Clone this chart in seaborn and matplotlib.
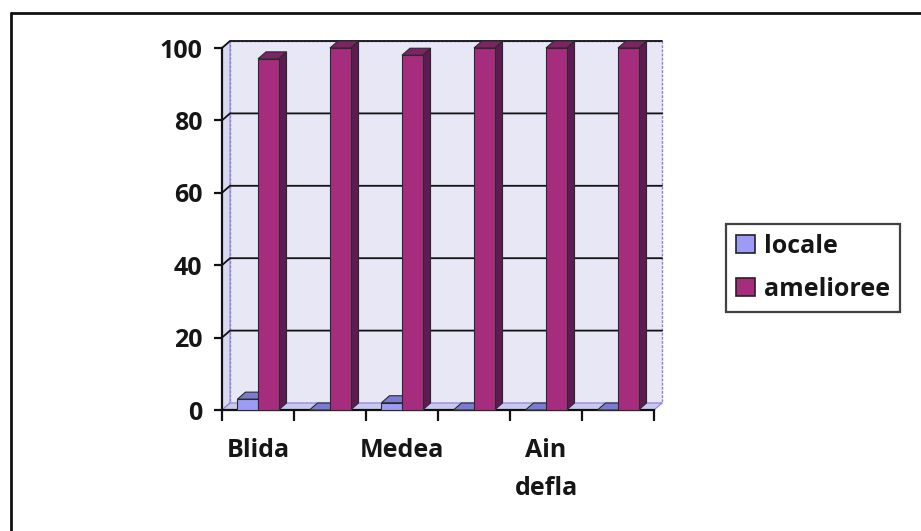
import matplotlib
matplotlib.use("Agg")
import matplotlib.pyplot as plt
import numpy as np
import pandas as pd
import seaborn as sns
from matplotlib.patches import Polygon, Patch, Rectangle
from matplotlib.lines import Line2D

# ---- data -------------------------------------------------------------
positions = [0, 1, 2, 3, 4, 5]
tick_labels = ["Blida", "", "Medea", "", "Ain\ndefla", ""]
locale = [3, 0, 2, 0, 0, 0]
amelioree = [97, 100, 98, 100, 100, 100]
series_names = ["locale", "amelioree"]
y_ticks = [0, 20, 40, 60, 80, 100]

# ---- style ------------------------------------------------------------
sns.set_theme(style="white")
plt.rcParams["font.family"] = ["Open Sans", "DejaVu Sans"]
plt.rcParams["font.weight"] = "bold"

face = {"locale": "#9c9cf6", "amelioree": "#a62c7e"}
side = {"locale": "#6464b4", "amelioree": "#5c1c52"}
top = {"locale": "#7b7bd0", "amelioree": "#7c2466"}
text_color = "#161616"

df = pd.DataFrame({
    "pos": positions * 2,
    "serie": ["locale"] * len(positions) + ["amelioree"] * len(positions),
    "valeur": locale + amelioree,
})

W, H = 921, 531
fig = plt.figure(figsize=(W / 100, H / 100), dpi=100)
fig.patch.set_facecolor("white")

# front plane of the plot: x 222..654 px, y 410..48 px
left_px, right_px, bottom_px, top_px = 222, 654, 410, 48
ax = fig.add_axes([left_px / W, 1 - bottom_px / H,
                   (right_px - left_px) / W, (bottom_px - top_px) / H])
ax.set_facecolor("none")

sns.barplot(data=df, x="pos", y="valeur", hue="serie", hue_order=series_names,
            order=positions, palette=face, width=0.57, saturation=1,
            edgecolor="#2a2a2a", linewidth=0.8, legend=False, ax=ax)
bars = [p for p in ax.patches if isinstance(p, Rectangle)]
bars = sorted(bars, key=lambda p: p.get_x())

ax.set_xlim(-0.5, 5.5)
ax.set_ylim(0, 100)

# depth of the 3D effect, in data units (about 7-8 px)
px_x = (right_px - left_px) / 6.0
px_y = (bottom_px - top_px) / 100.0
dx = 8 / px_x
dy = 7 / px_y

x0, x1 = -0.5, 5.5
wall_col = "#e7e7f6"
# back wall
ax.add_patch(Polygon([(x0 + dx, dy), (x1 + dx, dy), (x1 + dx, 100 + dy), (x0 + dx, 100 + dy)],
                     closed=True, facecolor=wall_col, edgecolor="#8c80d8",
                     linewidth=1.0, linestyle=(0, (2, 1)), zorder=0.2, clip_on=False))
# side wall
ax.add_patch(Polygon([(x0, 0), (x0 + dx, dy), (x0 + dx, 100 + dy), (x0, 100)],
                     closed=True, facecolor="#d9d9f0", edgecolor="#8c80d8",
                     linewidth=0.8, zorder=0.3, clip_on=False))
# floor
ax.add_patch(Polygon([(x0, 0), (x1, 0), (x1 + dx, dy), (x0 + dx, dy)],
                     closed=True, facecolor="#c9c9ef", edgecolor="#8c80d8",
                     linewidth=0.8, zorder=0.3, clip_on=False))

# gridlines on the back wall, joined to the front axis
for v in y_ticks[1:]:
    ax.add_line(Line2D([x0, x0 + dx, x1 + dx], [v, v + dy, v + dy],
                       color="#111111", linewidth=1.3, zorder=0.5, clip_on=False))

# 3D faces for each bar
loc_rgb = matplotlib.colors.to_rgb(face["locale"])
z = 2.0
for b in bars:
    bx, bw, bh = b.get_x(), b.get_width(), b.get_height()
    name = "locale" if np.allclose(b.get_facecolor()[:3], loc_rgb, atol=0.01) else "amelioree"
    ax.add_patch(Polygon([(bx + bw, 0), (bx + bw + dx, dy), (bx + bw + dx, bh + dy), (bx + bw, bh)],
                         closed=True, facecolor=side[name], edgecolor="#2a2a2a",
                         linewidth=0.8, zorder=z, clip_on=False))
    ax.add_patch(Polygon([(bx, bh), (bx + bw, bh), (bx + bw + dx, bh + dy), (bx + dx, bh + dy)],
                         closed=True, facecolor=top[name], edgecolor="#2a2a2a",
                         linewidth=0.8, zorder=z, clip_on=False))
    b.set_zorder(z + 0.5)
    b.set_clip_on(False)
    z += 1

# axes: front lines only
for s in ["top", "right"]:
    ax.spines[s].set_visible(False)
for s in ["left", "bottom"]:
    ax.spines[s].set_color("#111111")
    ax.spines[s].set_linewidth(1.6)
    ax.spines[s].set_zorder(1)

ax.set_yticks(y_ticks)
ax.set_yticklabels([str(v) for v in y_ticks], fontsize=18, fontweight="bold", color=text_color)
ax.tick_params(axis="y", direction="out", length=6, width=1.6, color="#111111", pad=8, left=True)

ax.set_xticks(np.arange(-0.5, 6.0, 1.0))
ax.set_xticklabels([])
ax.set_xticks(positions, minor=True)
ax.set_xticklabels(tick_labels, minor=True, fontsize=18, fontweight="bold",
                   color=text_color, linespacing=1.7, va="top")
ax.tick_params(axis="x", which="major", direction="out", length=8, width=1.6,
               color="#111111", bottom=True)
ax.tick_params(axis="x", which="minor", length=0, pad=20)
ax.set_xlabel("")
ax.set_ylabel("")
ax.grid(False)

# legend
handles = [Patch(facecolor=face[n], edgecolor="#222222", linewidth=1.2, label=n) for n in series_names]
leg = fig.legend(handles=handles, loc="upper left", bbox_to_anchor=(726 / W, 1 - 224 / H),
                 frameon=True, fancybox=False, fontsize=18, handlelength=0.75,
                 handleheight=0.75, handletextpad=0.35, borderpad=0.4, labelspacing=0.7,
                 borderaxespad=0)
leg.get_frame().set_edgecolor("#111111")
leg.get_frame().set_linewidth(1.6)
for t in leg.get_texts():
    t.set_fontweight("bold")
    t.set_color(text_color)

# outer frame of the chart (top and left edges)
fig.add_artist(Line2D([11 / W, 1.0], [1 - 13 / H, 1 - 13 / H], transform=fig.transFigure,
                      color="#111111", linewidth=2.0))
fig.add_artist(Line2D([11 / W, 11 / W], [1 - 13 / H, 0.0], transform=fig.transFigure,
                      color="#111111", linewidth=2.0))

fig.savefig("out.png", dpi=100, facecolor="white")
